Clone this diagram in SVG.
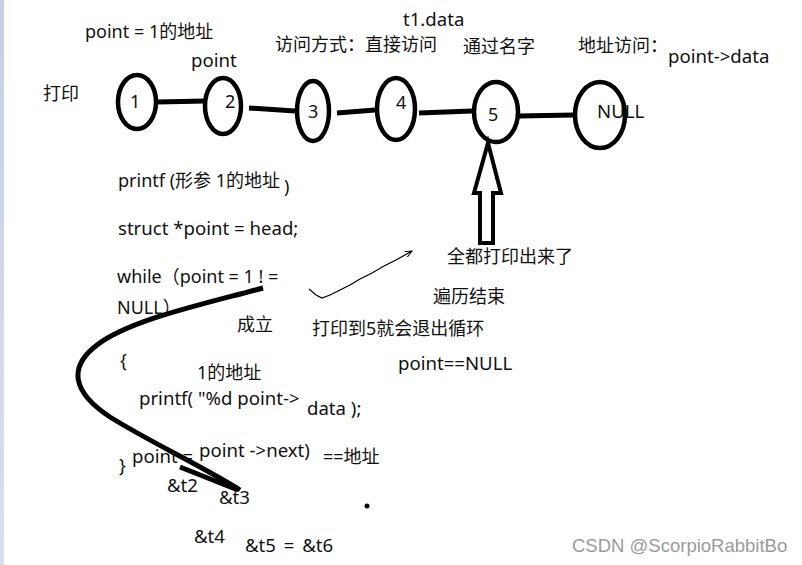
<svg xmlns="http://www.w3.org/2000/svg" width="802" height="565" viewBox="0 0 802 565">
<defs>
<linearGradient id="bar" x1="0" y1="0" x2="0" y2="1"><stop offset="0" stop-color="#c6cfe3"/><stop offset="1" stop-color="#d8e0ef"/></linearGradient>
<marker id="ah" markerWidth="8" markerHeight="8" refX="7" refY="4" orient="auto" markerUnits="userSpaceOnUse"><path d="M0,1 L7,4 L0,7" fill="none" stroke="#000" stroke-width="1"/></marker>
</defs>
<style>
text{font-family:"Noto Sans","Noto Sans CJK SC",sans-serif;font-size:18px;fill:#111}
text.l{font-size:18.6px}
.n{fill:none;stroke:#000;stroke-width:4.5}
.c{stroke:#000;stroke-width:5;stroke-linecap:butt;fill:none}
.wm{font-family:"Liberation Sans",Arial,sans-serif;font-size:18.5px;fill:#9a9a9a}
</style>
<rect width="802" height="565" fill="#fff"/>
<rect width="4" height="565" fill="url(#bar)"/>

<g id="node1"><ellipse class="n" cx="137" cy="102" rx="19" ry="27"/><text x="130" y="108">1</text></g>
<g id="node2"><ellipse class="n" cx="223" cy="106" rx="18" ry="28"/><text x="225" y="108">2</text></g>
<g id="node3"><ellipse class="n" cx="313" cy="111" rx="16" ry="30"/><text x="308" y="118">3</text></g>
<g id="node4"><ellipse class="n" cx="396" cy="109" rx="19" ry="31"/><text x="396" y="109">4</text></g>
<g id="node5"><ellipse class="n" cx="496" cy="112" rx="22" ry="30"/><text x="488" y="121">5</text></g>
<g id="nodeNULL"><ellipse class="n" cx="600" cy="115" rx="25" ry="33"/><text class="l" x="597" y="118">NULL</text></g>

<g id="connectors">
<line class="c" x1="157" y1="102" x2="206" y2="101"/>
<line class="c" x1="249" y1="108" x2="295" y2="111"/>
<line class="c" x1="337" y1="113" x2="375" y2="110"/>
<line class="c" x1="419" y1="113" x2="472" y2="111"/>
<line class="c" x1="519" y1="116" x2="574" y2="115"/>
<polygon points="488,143 501,193 493,193 493,243 480,243 480,193 474,193" fill="#fff" stroke="#000" stroke-width="4" stroke-linejoin="miter"/>
<path d="M263,288 C200,305 130,320 97,345 C68,367 72,392 110,417 C150,442 200,465 240,490" class="c" stroke-width="5.5"/>
<line class="c" x1="180" y1="467" x2="238" y2="490"/>
<path d="M309,289 L316,295 L322,298 L330,295 L340,290 L350,285 L360,279 L372,273 L384,266 L396,260 L412,251" fill="none" stroke="#000" stroke-width="1.2" marker-end="url(#ah)"/>
<circle cx="367" cy="506" r="2.5" fill="#000"/>
</g>

<g id="labels">
<text x="85" y="38">point = 1的地址</text>
<text class="l" x="191" y="67">point</text>
<text x="43" y="100">打印</text>
<text x="275" y="51">访问方式：直接访问</text>
<text class="l" x="403" y="26">t1.data</text>
<text x="463" y="53">通过名字</text>
<text x="578" y="52">地址访问：</text>
<text class="l" x="668" y="63">point-&gt;data</text>
<text x="118" y="187">printf (形参 1的地址</text>
<text x="284" y="193">)</text>
<text class="l" x="118" y="235">struct *point = head;</text>
<text x="117" y="283">while（point = 1 ! =</text>
<text x="117" y="314">NULL）</text>
<text x="237" y="331">成立</text>
<text x="312" y="335">打印到5就会退出循环</text>
<text x="447" y="263">全都打印出来了</text>
<text x="433" y="303">遍历结束</text>
<text class="l" x="398" y="370">point==NULL</text>
<text x="120" y="367">{</text>
<text x="197" y="379">1的地址</text>
<text class="l" x="139" y="405">printf( "%d point-&gt;</text>
<text class="l" x="307" y="415">data );</text>
<text class="l" x="132" y="463">point =</text>
<text class="l" x="199" y="457">point -&gt;next)</text>
<text x="323" y="463">==地址</text>
<text x="119" y="472">}</text>
<text class="l" x="167" y="492">&amp;t2</text>
<text class="l" x="219" y="504">&amp;t3</text>
<text class="l" x="194" y="543">&amp;t4</text>
<text class="l" x="245" y="552" word-spacing="3">&amp;t5 = &amp;t6</text>
<text class="wm" x="572" y="552">CSDN @ScorpioRabbitBo</text>
</g>
</svg>
